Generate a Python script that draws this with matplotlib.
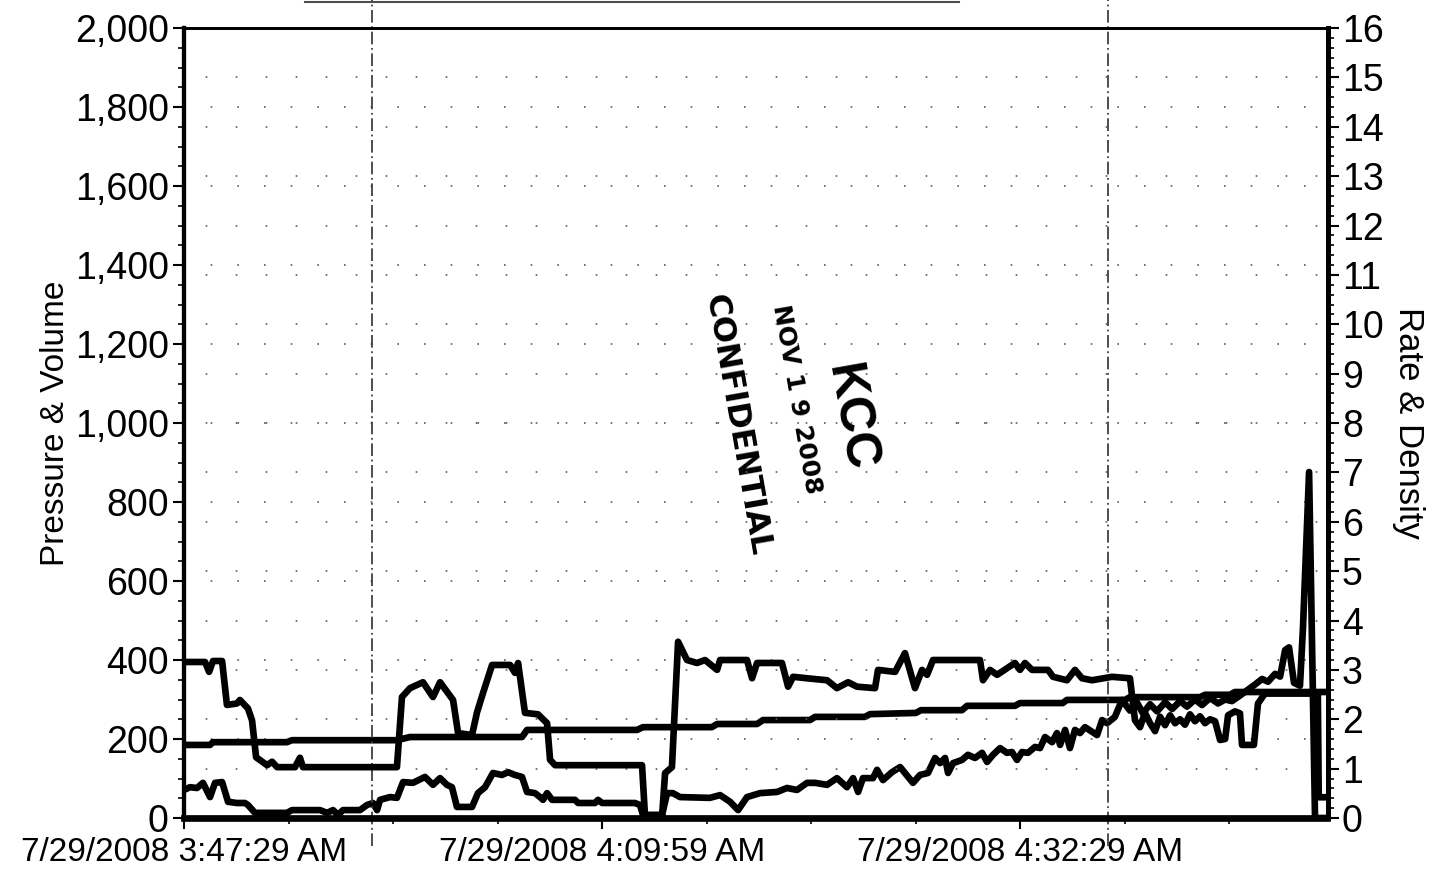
import matplotlib
matplotlib.use("Agg")
import matplotlib.pyplot as plt
from matplotlib.ticker import MultipleLocator, FuncFormatter
from matplotlib.lines import Line2D

plt.rcParams['font.family'] = ['Liberation Sans', 'DejaVu Sans']

# =========================
# DATA (minutes after 7/29/2008 3:47:29 AM)
# =========================

# pressure (psi) - left axis
p_time = [0, 0.32, 0.70, 1.02, 1.40, 1.67, 2.05, 2.37, 2.85, 3.28, 3.44, 3.82, 5.54, 5.81,
          7.32, 7.70, 8.02, 8.29, 8.56, 9.47, 9.85, 10.17, 10.39, 10.55, 11.09, 11.46, 11.79,
          12.32, 12.97, 13.40, 13.78, 14.15, 14.42, 14.69, 15.50, 15.82, 16.20, 16.63, 17.11,
          17.44, 17.81, 18.19, 18.46, 18.89, 19.16, 19.32, 19.54, 19.81, 21.04, 21.21, 22.12,
          22.28, 22.50, 24.27, 24.54, 24.70, 25.73, 26.00, 26.31, 26.69, 28.30, 28.85, 29.39,
          29.82, 30.30, 31.00, 31.92, 32.45, 32.99, 33.53, 33.96, 34.61, 35.14, 35.68, 36.01,
          36.28, 36.54, 37.08, 37.30, 37.62, 38.10, 38.54, 38.80, 39.23, 39.61, 40.04, 40.42,
          40.69, 40.96, 41.12, 41.39, 41.87, 42.19, 42.57, 42.95, 43.22, 43.54, 43.92, 44.29,
          44.56, 44.83, 45.10, 45.42, 45.80, 46.07, 46.34, 46.72, 46.98, 47.15, 47.42, 47.68,
          47.95, 48.22, 48.49, 49.14, 49.41, 49.68, 50.10, 50.48, 50.91, 51.29, 51.61, 51.99,
          52.37, 52.80, 53.18, 53.61, 53.98, 54.41, 54.79, 55.22, 55.65, 56.03, 56.40, 56.83,
          57.26, 57.64, 58.02, 58.34, 58.72, 58.99, 59.26, 59.47, 59.74, 60.06, 60.22, 60.55,
          60.76, 60.87, 61.51]
pressure = [71, 78, 76, 89, 53, 89, 91, 41, 38, 38, 33, 13, 13, 20,
            20, 13, 20, 8, 20, 20, 33, 38, 20, 46, 53, 51, 91,
            89, 104, 84, 101, 84, 78, 28, 28, 63, 78, 114, 109,
            116, 109, 104, 66, 63, 53, 46, 63, 46, 46, 38, 38,
            46, 38, 38, 33, 8, 8, 63, 63, 53, 51, 58, 41,
            20, 53, 63, 66, 76, 71, 89, 89, 84, 101, 78, 101,
            66, 101, 101, 122, 96, 116, 129, 114, 89, 109, 114, 152,
            139, 152, 114, 139, 147, 160, 152, 165, 142, 160, 177, 165,
            167, 147, 167, 165, 180, 177, 205, 192, 215, 185, 223, 177,
            223, 215, 230, 210, 248, 240, 256, 299, 272, 292, 265, 288,
            270, 293, 276, 296, 282, 300, 286, 304, 290, 300, 296, 310,
            325, 338, 352, 345, 365, 358, 425, 432, 342, 335, 480, 876,
            300, 0, 0]

# volume (bbl) - left axis
v_time = [0, 1.40, 1.56, 5.54, 5.81, 11.46, 12.16, 18.19, 18.46, 24.38, 24.70, 28.41,
          28.69, 30.84, 31.16, 33.69, 33.96, 36.65, 36.92, 39.39, 39.66, 41.87, 42.14,
          44.72, 44.99, 47.29, 47.52, 50.64, 50.91, 54.68, 54.95, 56.29, 56.56, 61.51]
volume = [185, 185, 192, 192, 197, 197, 205, 205, 223, 223, 230, 230,
          238, 238, 248, 248, 256, 256, 263, 266, 273, 273, 284,
          284, 291, 291, 299, 299, 306, 306, 312, 312, 319, 319]

# rate (bpm) - right axis
r_time = [0, 1.13, 1.35, 1.56, 2.05, 2.31, 2.85, 3.01, 3.44, 3.66, 3.88, 4.47, 4.74, 5.01,
          5.97, 6.24, 6.40, 11.46, 11.73, 12.16, 12.86, 13.40, 13.78, 14.48, 14.75, 15.50,
          15.77, 16.09, 16.58, 17.55, 17.81, 17.98, 18.35, 19.05, 19.54, 19.70, 19.97, 24.65,
          24.81, 25.73, 25.89, 26.26, 26.59, 27.07, 27.61, 28.04, 28.69, 28.85, 30.30, 30.57,
          30.84, 32.18, 32.51, 32.78, 33.53, 34.61, 35.14, 35.74, 36.22, 37.19, 37.35, 38.27,
          38.80, 39.34, 39.72, 39.99, 40.31, 42.84, 43.00, 43.38, 43.76, 44.72, 44.99, 45.26,
          45.64, 46.50, 46.77, 47.52, 47.95, 48.33, 48.87, 49.94, 50.91, 51.18, 51.45, 51.72,
          51.99, 52.26, 52.53, 52.80, 53.07, 53.34, 53.61, 53.87, 54.14, 54.41, 54.68, 54.95,
          55.22, 55.49, 55.76, 56.03, 56.19, 56.56, 56.83, 56.94, 57.58, 57.80, 58.17, 61.02,
          61.07, 61.51]
rate = [3.16, 3.16, 2.96, 3.18, 3.18, 2.29, 2.32, 2.39, 2.22, 1.98, 1.23, 1.07, 1.14, 1.03,
        1.03, 1.22, 1.03, 1.03, 2.45, 2.63, 2.75, 2.45, 2.75, 2.39, 1.72, 1.68,
        2.14, 2.53, 3.10, 3.10, 2.94, 3.14, 2.13, 2.10, 1.92, 1.18, 1.07, 1.07,
        0.04, 0.04, 0.91, 1.03, 3.57, 3.20, 3.14, 3.20, 3.00, 3.20, 3.20, 2.83,
        3.14, 3.14, 2.66, 2.86, 2.83, 2.79, 2.63, 2.75, 2.66, 2.63, 3.00, 2.96,
        3.34, 2.63, 3.00, 2.90, 3.20, 3.20, 2.79, 3.00, 2.90, 3.14, 3.00, 3.14,
        3.00, 3.00, 2.86, 2.79, 3.00, 2.83, 2.79, 2.86, 2.83, 1.98, 1.84, 2.13,
        1.92, 1.76, 2.05, 1.88, 2.08, 1.92, 2.00, 1.89, 2.10, 1.96, 2.06, 1.92,
        2.00, 1.96, 1.58, 1.60, 2.08, 2.16, 2.12, 1.48, 1.48, 2.32, 2.52, 2.52,
        0.42, 0.42]

# density - right axis
d_time = [0, 61.51]
density = [0, 0]

x_max = 61.57
x_labels = ["7/29/2008 3:47:29 AM", "7/29/2008 4:09:59 AM", "7/29/2008 4:32:29 AM"]
x_label_pos = [0, 22.5, 45]

# scan marks on the page
scan_marks = [10.12, 49.73]

# =========================
# PLOT
# =========================

fig = plt.figure(figsize=(14.32, 8.76), dpi=100)
ax = fig.add_axes([0.1285, 0.0662, 0.7989, 0.9018])
ax2 = ax.twinx()

lw = 4.8
ax.plot(p_time, pressure, color="black", lw=lw)
ax.plot(v_time, volume, color="black", lw=lw)
ax2.plot(r_time, rate, color="black", lw=lw)
ax2.plot(d_time, density, color="black", lw=lw, clip_on=False)

ax.set_xlim(0, x_max)
ax.set_ylim(0, 2000)
ax2.set_ylim(0, 16)

# sparse dotted grids for both axes
for v in range(200, 2000, 200):
    ax.axhline(v, color="0.35", lw=1.2, ls=(0, (1, 15)), zorder=0)
for v in range(1, 16):
    ax2.axhline(v, color="0.35", lw=1.2, ls=(5, (1, 17)), zorder=0)

# scan marks
for xm in scan_marks:
    ax.axvline(xm, ymin=-0.035, ymax=1.035, color="0.25", lw=1.3,
               ls=(0, (7, 2, 1, 2)), clip_on=False)
fig.add_artist(Line2D([0.213, 0.67], [0.998, 0.998], color="0.3", lw=1.5))

# ticks
ax.yaxis.set_major_locator(MultipleLocator(200))
ax.yaxis.set_minor_locator(MultipleLocator(50))
ax.yaxis.set_major_formatter(FuncFormatter(lambda v, p: f"{int(v):,}"))
ax2.yaxis.set_major_locator(MultipleLocator(1))
ax2.yaxis.set_minor_locator(MultipleLocator(0.2))
ax.set_xticks(x_label_pos)
ax.set_xticklabels(x_labels)
ax.xaxis.set_minor_locator(MultipleLocator(5.625))

ax.tick_params(axis="y", which="major", labelsize=27, length=8, width=1.5, pad=3)
ax.tick_params(axis="x", which="major", labelsize=24, length=8, width=1.5, pad=6)
ax.tick_params(axis="both", which="minor", length=4, width=1.2)
ax2.tick_params(axis="y", which="major", labelsize=27, length=8, width=1.5, pad=2)
ax2.tick_params(axis="y", which="minor", length=4, width=1.2)

ax.set_ylabel("Pressure & Volume", fontsize=24, labelpad=3)
ax2.set_ylabel("Rate & Density", fontsize=25, rotation=270, labelpad=30)

for a in (ax, ax2):
    a.spines["left"].set_linewidth(3)
    a.spines["right"].set_linewidth(3.5)
    a.spines["top"].set_linewidth(2)
    a.spines["bottom"].set_linewidth(3)

# stamp (slightly tilted)
ax.text(0.582, 0.506, "KCC", transform=ax.transAxes, rotation=280, fontsize=36,
        fontweight="bold", ha="center", va="center")
ax.text(0.535, 0.53, "NOV 1 9 2008", transform=ax.transAxes, rotation=280, fontsize=18,
        fontweight="bold", ha="center", va="center", family="DejaVu Sans")
ax.text(0.483, 0.497, "CONFIDENTIAL", transform=ax.transAxes, rotation=280, fontsize=23,
        fontweight="bold", ha="center", va="center", family="DejaVu Sans")

plt.savefig("out.png", dpi=100)
